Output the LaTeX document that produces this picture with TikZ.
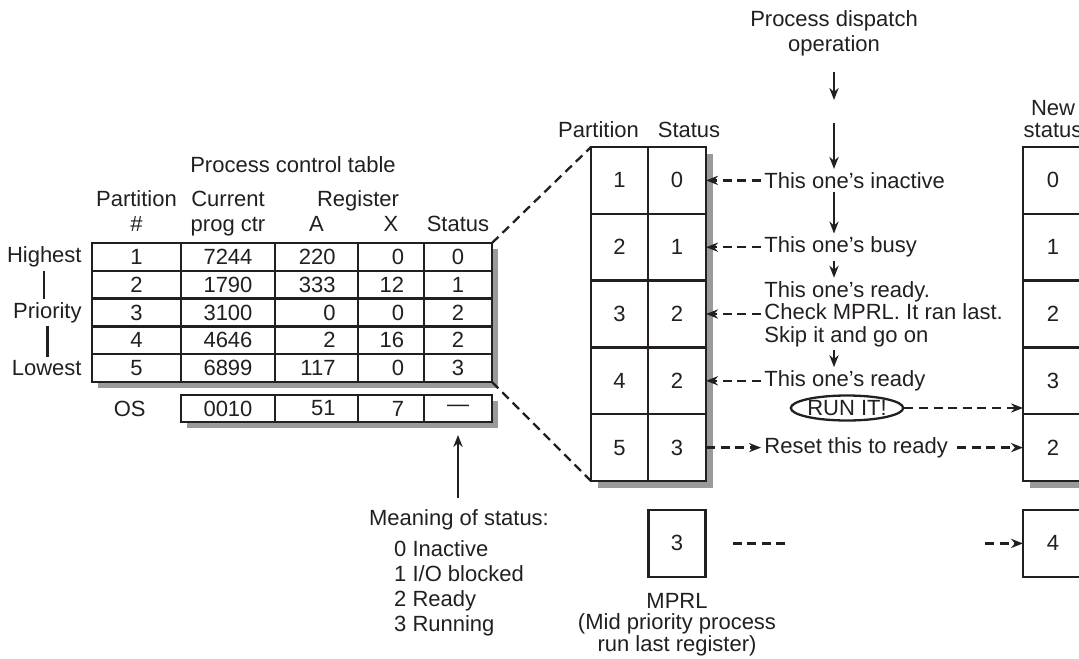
\documentclass[tikz,border=0pt]{standalone}
\usepackage{fontspec}
\setmainfont{Liberation Sans}
\usepackage{tikz}
\usetikzlibrary{arrows.meta,calc,positioning,shapes.geometric,backgrounds}
\definecolor{pcbInk}{HTML}{231F20}
\definecolor{pcbShadow}{HTML}{9A9A9C}
\tikzset{
  flow/.style={-{Stealth[length=6pt,width=4.6pt]}, line width=1.15pt, draw=pcbInk},
  dash flow/.style={flow, dash pattern=on 4.5pt off 2.8pt},
  dash link/.style={line width=1.15pt, draw=pcbInk, dash pattern=on 4.5pt off 2.8pt},
  cell/.style={draw=pcbInk, fill=white, line width=1.15pt, outer sep=0pt,
    inner sep=0pt, minimum height=13.9pt},
  colP/.style={cell, minimum width=44.5pt},
  colC/.style={cell, minimum width=47pt},
  colA/.style={cell, minimum width=41.5pt, text width=19pt, align=right},
  colX/.style={cell, minimum width=33pt, text width=13pt, align=right},
  colS/.style={cell, minimum width=34pt},
  big cell/.style={cell, minimum height=33.4pt},
  hdr/.style={align=center, inner sep=1pt, text depth=.25em},
  note/.style={align=left, inner sep=1.5pt},
  run oval/.style={ellipse, draw=pcbInk, line width=1.15pt, inner sep=0pt,
    minimum width=54.5pt, minimum height=12.5pt},
  tight/.style={font=\fontsize{11}{11.3}\selectfont}
}
\begin{document}
\begin{tikzpicture}[x=0.5pt, y=-0.5pt, color=pcbInk,
    font=\fontsize{11}{12.5}\selectfont]
  \path[use as bounding box] (0,0) rectangle (1079,658);
  % process control table
  \node[colP, anchor=north west] (part1) at (92,243) {1};
  \node[colC, right=0pt of part1] (pc1) {7244};
  \node[colA, right=0pt of pc1] (ra1) {220};
  \node[colX, right=0pt of ra1] (rx1) {0};
  \node[colS, right=0pt of rx1] (st1) {0};
  \node[colP, below=0pt of part1] (part2) {2};
  \node[colC, right=0pt of part2] (pc2) {1790};
  \node[colA, right=0pt of pc2] (ra2) {333};
  \node[colX, right=0pt of ra2] (rx2) {12};
  \node[colS, right=0pt of rx2] (st2) {1};
  \node[colP, below=0pt of part2] (part3) {3};
  \node[colC, right=0pt of part3] (pc3) {3100};
  \node[colA, right=0pt of pc3] (ra3) {0};
  \node[colX, right=0pt of ra3] (rx3) {0};
  \node[colS, right=0pt of rx3] (st3) {2};
  \node[colP, below=0pt of part3] (part4) {4};
  \node[colC, right=0pt of part4] (pc4) {4646};
  \node[colA, right=0pt of pc4] (ra4) {2};
  \node[colX, right=0pt of ra4] (rx4) {16};
  \node[colS, right=0pt of rx4] (st4) {2};
  \node[colP, below=0pt of part4] (part5) {5};
  \node[colC, right=0pt of part5] (pc5) {6899};
  \node[colA, right=0pt of pc5] (ra5) {117};
  \node[colX, right=0pt of ra5] (rx5) {0};
  \node[colS, right=0pt of rx5] (st5) {3};
  \node[colC, minimum height=13.5pt, below=6.5pt of pc5] (pc0) {0010};
  \node[colA, minimum height=13.5pt, right=0pt of pc0] (ra0) {51};
  \node[colX, minimum height=13.5pt, right=0pt of ra0] (rx0) {7};
  \node[colS, minimum height=13.5pt, right=0pt of rx0] (st0) {---};
  \node[note, left=16pt of pc0] (oslbl) {OS};
  \node[note, left=3.5pt of part1] (hi) {Highest};
  \node[note, left=3.5pt of part3] (prio) {Priority};
  \node[note, left=3.5pt of part5] (lo) {Lowest};
  \draw[line width=1.15pt] (hi.south) -- (hi.south |- prio.north);
  \draw[line width=1.15pt] (prio.south) -- (prio.south |- lo.north);
  \node[hdr, above=2pt of part1] (hpart) {Partition\\\#};
  \node[hdr, above=2pt of pc1] (hpc) {Current\\prog ctr};
  \node[hdr, above=2pt of ra1] (ha) {A};
  \node[hdr, above=2pt of rx1] (hx) {X};
  \node[hdr, above=2pt of st1] (hst) {Status};
  \node[hdr, anchor=south] (hreg) at (ha.north -| ra1.north east) {Register};
  \node[hdr] (ptab) at (293,167) {Process control table};
  % partition status table
  \node[big cell, minimum width=28.5pt, anchor=north west] (mp1) at (591,147) {1};
  \node[big cell, minimum width=29pt, right=0pt of mp1] (ms1) {0};
  \node[big cell, minimum width=28.5pt, below=0pt of mp1] (mp2) {2};
  \node[big cell, minimum width=29pt, right=0pt of mp2] (ms2) {1};
  \node[big cell, minimum width=28.5pt, below=0pt of mp2] (mp3) {3};
  \node[big cell, minimum width=29pt, right=0pt of mp3] (ms3) {2};
  \node[big cell, minimum width=28.5pt, below=0pt of mp3] (mp4) {4};
  \node[big cell, minimum width=29pt, right=0pt of mp4] (ms4) {2};
  \node[big cell, minimum width=28.5pt, below=0pt of mp4] (mp5) {5};
  \node[big cell, minimum width=29pt, right=0pt of mp5] (ms5) {3};
  \node[hdr, above=1pt of mp1, xshift=-10.5pt] (hmp) {Partition};
  \node[hdr, above=1pt of ms1, xshift=6pt] (hms) {Status};
  % new status table
  \node[big cell, minimum width=30pt, anchor=north west] (ns1) at (1023,147) {0};
  \node[big cell, minimum width=30pt, below=0pt of ns1] (ns2) {1};
  \node[big cell, minimum width=30pt, below=0pt of ns2] (ns3) {2};
  \node[big cell, minimum width=30pt, below=0pt of ns3] (ns4) {3};
  \node[big cell, minimum width=30pt, below=0pt of ns4] (ns5) {2};
  \node[hdr, tight, above=1pt of ns1] (hns) {New\\status};
  % mprl
  \node[big cell, minimum width=28.5pt, below=14.5pt of ms5] (mprl) {3};
  \node[hdr, font=\fontsize{11}{10.8}\selectfont, below=7pt of mprl] (mprltxt)
    {MPRL\\(Mid priority process\\run last register)};
  \node[big cell, minimum width=30pt, below=14.5pt of ns5] (newmprl) {4};
  \coordinate (mgapA) at ($(mprl.east)+(41pt,0)$);
  \coordinate (mgapB) at ($(newmprl.west)+(-19pt,0)$);
  % dispatch notes
  \node[hdr] (dispatch) at (834,34) {Process dispatch\\operation};
  \coordinate (dtop) at (834,100);
  \coordinate (dbot) at (834,123);
  \node[note, right=27.5pt of ms1] (inactive) {This one’s inactive};
  \node[note, right=27.5pt of ms2] (busy) {This one’s busy};
  \node[note, tight, right=27.5pt of ms3] (ready3)
    {This one’s ready.\\Check MPRL. It ran last.\\Skip it and go on};
  \node[note, right=27.5pt of ms4] (ready4) {This one’s ready};
  \node[note, right=27.5pt of ms5] (reset) {Reset this to ready};
  \node[run oval] (runit) at (847,408) {RUN IT!};
  % meaning of status
  \node[hdr] (meaning) at (459,520) {Meaning of status:};
  \node[note, below=2pt of meaning] (codes)
    {0 Inactive\\1 I/O blocked\\2 Ready\\3 Running};
  \begin{scope}[on background layer]
    \fill[pcbShadow] ($(part1.north west)+(3pt,-3pt)$) rectangle ($(st5.south east)+(3pt,-3pt)$);
    \fill[pcbShadow] ($(pc0.north west)+(3pt,-3pt)$) rectangle ($(st0.south east)+(3pt,-3pt)$);
    \fill[pcbShadow] ($(mp1.north west)+(3.5pt,-3.5pt)$) rectangle ($(ms5.south east)+(3.5pt,-3.5pt)$);
    \fill[pcbShadow] ($(ns1.north west)+(3.5pt,-3.5pt)$) rectangle ($(ns5.south east)+(3.5pt,-3.5pt)$);
  \end{scope}
  \draw[dash link] (st1.north east) -- (mp1.north west);
  \draw[dash link] (st5.south east) -- (mp5.south west);
  \draw[flow, shorten <=6.5pt] (dispatch.south -| dtop) -- (dtop);
  \draw[flow] (dbot) -- (dbot |- inactive.north);
  \draw[flow] (inactive.south -| dbot) -- (busy.north -| dbot);
  \draw[flow] (busy.south -| dbot) -- (ready3.north -| dbot);
  \draw[flow] (ready3.south -| dbot) -- (ready4.north -| dbot);
  \draw[dash flow] (inactive.west) -- (ms1.east);
  \draw[dash flow] (busy.west) -- (ms2.east);
  \draw[dash flow] (ready3.west) -- (ms3.east);
  \draw[dash flow] (ready4.west) -- (ms4.east);
  \draw[dash flow] (ms5.east) -- (reset.west);
  \draw[dash flow, shorten <=3pt] (reset.east) -- (reset.east -| ns5.west);
  \draw[dash flow] (runit.east) -- (runit.east -| ns5.west);
  \draw[dash link, shorten <=13.5pt] (mprl.east) -- (mgapA);
  \draw[dash flow] (mgapB) -- (newmprl.west);
  \draw[flow, shorten <=4.5pt, shorten >=6.5pt] (meaning.north -| st0) -- (st0.south);
\end{tikzpicture}
\end{document}
